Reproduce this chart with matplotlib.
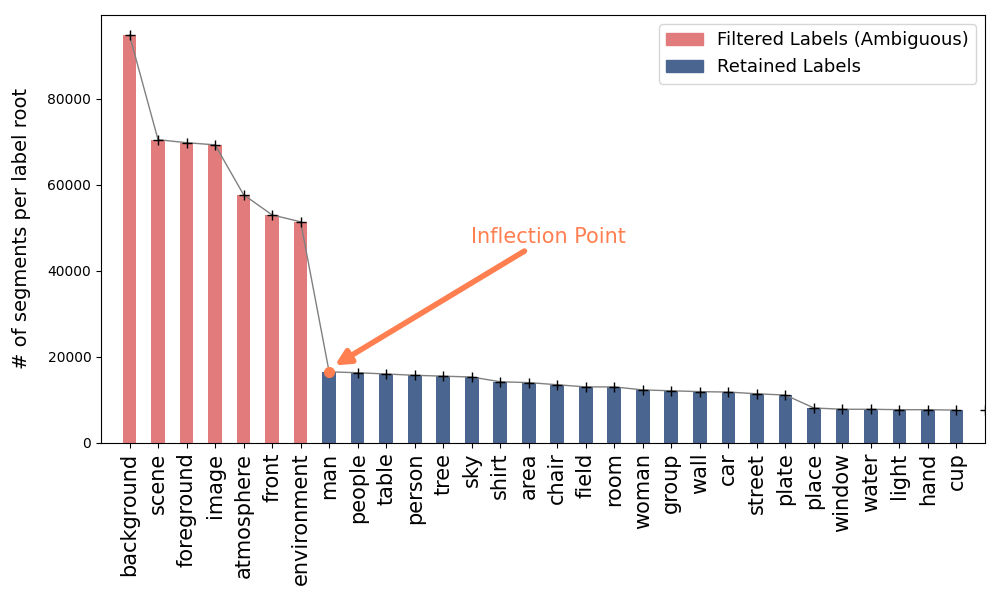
import numpy as np
import matplotlib
matplotlib.use("Agg")
import matplotlib.pyplot as plt
from matplotlib.patches import Patch

labels = ["background", "scene", "foreground", "image", "atmosphere", "front",
          "environment", "man", "people", "table", "person", "tree", "sky",
          "shirt", "area", "chair", "field", "room", "woman", "group", "wall",
          "car", "street", "plate", "place", "window", "water", "light",
          "hand", "cup"]
counts = [94800, 70500, 69800, 69300, 57700, 53000, 51400, 16500, 16300,
          16000, 15700, 15500, 15300, 14200, 14000, 13500, 13000, 13000,
          12300, 12100, 11900, 11800, 11400, 11100, 8100, 7800, 7800, 7700,
          7700, 7600]
tail_count = 7600   # one more marker sits on the right spine
n_filtered = 7

RED = "#E27C7C"
BLUE = "#4A6590"
ORANGE = "#FF7F50"

x = np.arange(len(labels))
colors = [RED if i < n_filtered else BLUE for i in range(len(labels))]

fig, ax = plt.subplots(figsize=(10, 6), dpi=100)
fig.subplots_adjust(left=0.101, right=0.985, top=0.975, bottom=0.262)

ax.bar(x, counts, width=0.48, color=colors, zorder=2)

# trend line and markers
ax.plot(x, counts, color="gray", linewidth=1, zorder=3)
mx = np.append(np.delete(x, n_filtered), len(labels))
my = np.append(np.delete(counts, n_filtered), tail_count)
ax.plot(mx, my, linestyle="none", marker="+", color="black",
        markersize=7, markeredgewidth=1, zorder=4)
ax.plot(x[n_filtered], counts[n_filtered], marker="o", color=ORANGE,
        markersize=7, zorder=5)

# inflection annotation
ax.annotate("", xy=(x[n_filtered] + 0.2, 18000), xytext=(13.85, 44600),
            arrowprops=dict(arrowstyle="-|>", color=ORANGE, lw=4,
                            mutation_scale=22, shrinkA=0, shrinkB=0))
ax.text(14.7, 47800, "Inflection Point", color=ORANGE, fontsize=15,
        ha="center", va="center")

ax.set_xlim(-1, len(labels))
ax.set_ylim(0, 99500)
ax.set_xticks(x)
ax.set_xticklabels(labels, rotation=90, fontsize=15)
ax.set_ylabel("# of segments per label root", fontsize=14, labelpad=12)

handles = [Patch(color=RED, label="Filtered Labels (Ambiguous)"),
           Patch(color=BLUE, label="Retained Labels")]
ax.legend(handles=handles, loc="upper right", fontsize=13)

plt.savefig("out.png")
